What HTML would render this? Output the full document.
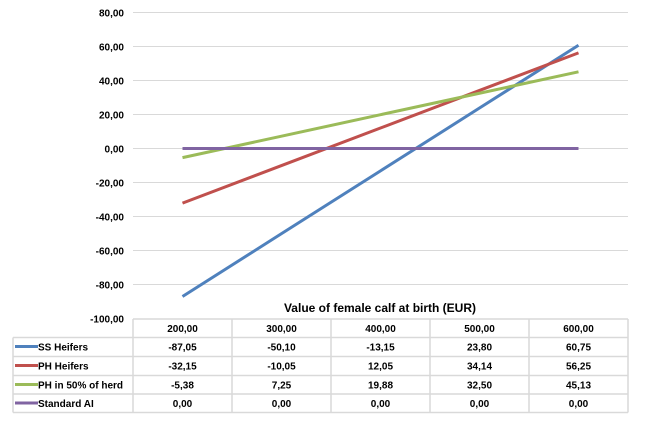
<!DOCTYPE html>
<html><head><meta charset="utf-8"><style>
body{margin:0;background:#fff;font-family:"Liberation Sans",Arial,sans-serif}
svg text{font-family:"Liberation Sans",Arial,sans-serif;font-weight:bold;fill:#000}
</style></head><body>
<svg id="chart" width="660" height="418" xmlns="http://www.w3.org/2000/svg"></svg>
<script>
const categories=["200,00","300,00","400,00","500,00","600,00"];
const seriesNames=["SS Heifers","PH Heifers","PH in 50% of herd","Standard AI"];
const ssHeifers=[-87.05,-50.10,-13.15,23.80,60.75];
const phHeifers=[-32.15,-10.05,12.05,34.14,56.25];
const ph50=[-5.38,7.25,19.88,32.50,45.13];
const standardAI=[0,0,0,0,0];
const yTicks=[80,60,40,20,0,-20,-40,-60,-80,-100];
const colors=["#4f81bd","#c0504d","#9bbb59","#8064a2"];
const allSeries=[ssHeifers,phHeifers,ph50,standardAI];
const svg=document.getElementById('chart');
const NS="http://www.w3.org/2000/svg";
const X0=133,X1=628,colW=(X1-X0)/categories.length;
const yScale=v=>148.5-(v/20)*34;
const xScale=i=>X0+colW*(i+0.5);
function mk(tag,attrs,parent){const e=document.createElementNS(NS,tag);for(const k in attrs)e.setAttribute(k,attrs[k]);(parent||svg).appendChild(e);return e;}
const fmt=v=>v.toFixed(2).replace('.',',');
// grid & y labels
yTicks.forEach(t=>{
  const y=yScale(t);
  if(t>-100){const l=mk('line',{x1:X0,x2:X1,y1:y,y2:y,stroke:'#d9d9d9','stroke-width':1});
  
  }
  const tx=mk('text',{x:124,y:y+4,'text-anchor':'end','font-size':'10'});
  tx.textContent=fmt(t);
  
  
});
// lines
allSeries.forEach((s,si)=>{
  const p=mk('polyline',{points:s.map((v,i)=>xScale(i)+','+yScale(v)).join(' '),fill:'none',stroke:colors[si],'stroke-width':3});
  
  
});
// axis title
const at=mk('text',{x:380,y:312,'text-anchor':'middle','font-size':'12'});
at.textContent="Value of female calf at birth (EUR)";


// table
const rows=[319,337.5,356.5,375.5,394,412.5];
const tb=mk('g',{});


const st={stroke:'#d9d9d9','stroke-width':1.5};
mk('line',Object.assign({x1:X0,x2:X1,y1:rows[0],y2:rows[0]},st),tb);
for(let r=1;r<rows.length;r++)mk('line',Object.assign({x1:13,x2:X1,y1:rows[r],y2:rows[r]},st),tb);
mk('line',Object.assign({x1:13,x2:13,y1:rows[1],y2:rows[5]},st),tb);
for(let c=0;c<=categories.length;c++)mk('line',Object.assign({x1:X0+c*colW,x2:X0+c*colW,y1:rows[0],y2:rows[5]},st),tb);
categories.forEach((c,i)=>{const t=mk('text',{x:xScale(i),y:rows[0]+13,'text-anchor':'middle','font-size':'10'},tb);t.textContent=c;

});
allSeries.forEach((s,si)=>{
  const y=rows[si+1]+13;
  const lk=mk('line',{x1:15,x2:38,y1:y-4,y2:y-4,stroke:colors[si],'stroke-width':3},tb);
  
  
  const n=mk('text',{x:38,y:y,'font-size':'10'},tb);n.textContent=seriesNames[si];
  
  
  s.forEach((v,i)=>{const t=mk('text',{x:xScale(i),y:y,'text-anchor':'middle','font-size':'10'},tb);t.textContent=fmt(v);
  
  });
});
</script>
</body></html>
